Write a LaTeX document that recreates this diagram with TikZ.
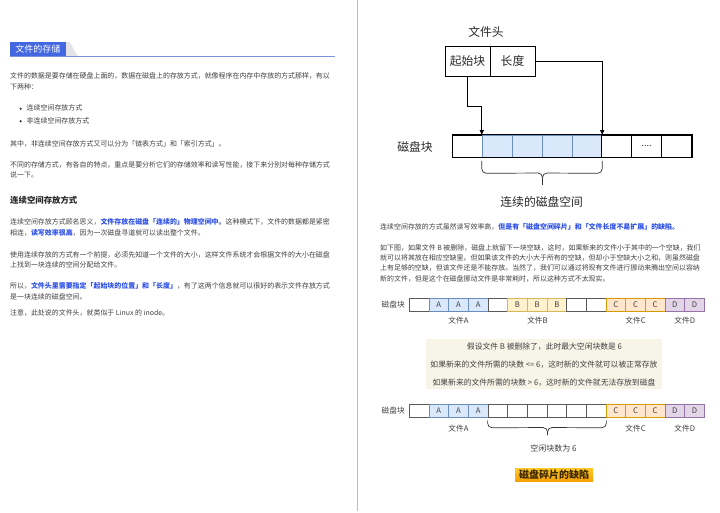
\documentclass[tikz,border=0pt]{standalone}
\usepackage{fontspec}
\setmainfont{Noto Sans CJK SC}
\usetikzlibrary{arrows.meta}
\definecolor{bodytxt}{RGB}{64,64,64}
\definecolor{headtxt}{RGB}{40,40,40}
\definecolor{linkblue}{RGB}{45,80,230}
\definecolor{tabblue}{RGB}{66,103,224}
\definecolor{tabline}{RGB}{125,143,224}
\definecolor{tabshadow}{RGB}{228,228,232}
\definecolor{dioblue}{RGB}{218,232,252}
\definecolor{dioblueline}{RGB}{108,142,191}
\definecolor{dioyellow}{RGB}{255,242,204}
\definecolor{dioyellowline}{RGB}{214,182,86}
\definecolor{dioorange}{RGB}{255,230,204}
\definecolor{dioorangeline}{RGB}{215,155,0}
\definecolor{diopurple}{RGB}{225,213,231}
\definecolor{diopurpleline}{RGB}{150,115,166}
\definecolor{notebg}{RGB}{247,245,232}
\definecolor{sepgray}{RGB}{190,190,190}
\definecolor{celledge}{RGB}{90,90,90}
\definecolor{badgetop}{RGB}{255,200,40}
\definecolor{badgebot}{RGB}{245,160,0}
\definecolor{badgetxt}{RGB}{60,40,0}
\newcommand{\hl}[1]{\textcolor{linkblue}{\bfseries #1}}
\begin{document}
\begin{tikzpicture}[x=1pt,y=-1pt,
  body/.style={anchor=west, inner sep=0pt, text=bodytxt, font=\fontsize{6.95}{8}\selectfont, text height=5.6pt, text depth=1.4pt},
  bigtxt/.style={inner sep=0pt, text=headtxt, font=\fontsize{11.8}{13}\selectfont},
  smalltxt/.style={inner sep=0pt, text=bodytxt, font=\fontsize{7.7}{9}\selectfont},
  hdrbox/.style={draw=black, line width=0.9pt, minimum width=45pt, minimum height=30pt, inner sep=0pt, text=headtxt, font=\fontsize{11.8}{13}\selectfont},
  topcell/.style={draw=black, line width=0.8pt, fill=white, minimum width=29.9pt, minimum height=22.3pt, inner sep=0pt},
  bluecell/.style={draw=dioblueline, line width=0.8pt, fill=dioblue, minimum width=29.9pt, minimum height=22.3pt, inner sep=0pt},
  cellbase/.style={minimum width=19.67pt, minimum height=13.5pt, inner sep=0pt, line width=0.7pt, text=bodytxt, font=\fontsize{7.7}{9}\selectfont},
  cellW/.style={cellbase, draw=celledge, fill=white},
  cellA/.style={cellbase, draw=dioblueline, fill=dioblue},
  cellB/.style={cellbase, draw=dioyellowline, fill=dioyellow},
  cellC/.style={cellbase, draw=dioorangeline, fill=dioorange},
  cellD/.style={cellbase, draw=diopurpleline, fill=diopurple},
  arr/.style={draw=black, line width=0.8pt, -{Triangle[length=4.5pt,width=4pt]}},
  bracepath/.style={draw=black!80, line width=0.7pt, rounded corners=4.5pt},
  notetxt/.style={inner sep=0pt, text=bodytxt, font=\fontsize{7.8}{9}\selectfont}
]
\useasboundingbox (0,0) rectangle (720,513);
\fill[white] (0,0) rectangle (720,513);

% page separator
\draw[sepgray, line width=1.2pt] (357.5,0) -- (357.5,511);

% ---------------- left page ----------------
\fill[tabshadow] (65.5,42) -- (69.5,42) -- (78,56.5) -- (65.5,56.5) -- cycle;
\fill[tabblue] (10,42) rectangle (65.5,56.8);
\draw[tabline, line width=1.3pt] (10,56.8) -- (335,56.8);
\node[inner sep=0pt, text=white, font=\fontsize{9}{10}\selectfont] (tab) at (37.8,49.4) {文件的存储};

\node[body] (p1a) at (10,76) {文件的数据是要存储在硬盘上面的，数据在磁盘上的存放方式，就像程序在内存中存放的方式那样，有以};
\node[body] (p1b) at (10,87) {下两种：};
\fill[bodytxt] (20.6,108.8) circle (1.2pt);
\node[body] (b1) at (26.5,108.8) {连续空间存放方式};
\fill[bodytxt] (20.6,121.3) circle (1.2pt);
\node[body] (b2) at (26.5,121.3) {非连续空间存放方式};
\node[body] (p2) at (10,144) {其中，非连续空间存放方式又可以分为「链表方式」和「索引方式」。};
\node[body] (p3a) at (10,165.6) {不同的存储方式，有各自的特点，重点是要分析它们的存储效率和读写性能，接下来分别对每种存储方式};
\node[body] (p3b) at (10,175.6) {说一下。};
\node[anchor=west, inner sep=0pt, text=headtxt, font=\fontsize{8.4}{10}\selectfont\bfseries] (h2) at (10,199.8) {连续空间存放方式};
\node[body] (p4a) at (10,222.6) {连续空间存放方式顾名思义，\hl{文件存放在磁盘「连续的」物理空间中。}这种模式下，文件的数据都是紧密};
\node[body] (p4b) at (10,233.2) {相连，\hl{读写效率很高}，因为一次磁盘寻道就可以读出整个文件。};
\node[body] (p5a) at (10,255) {使用连续存放的方式有一个前提，必须先知道一个文件的大小，这样文件系统才会根据文件的大小在磁盘};
\node[body] (p5b) at (10,265.4) {上找到一块连续的空间分配给文件。};
\node[body] (p6a) at (10,286.6) {所以，\hl{文件头里需要指定「起始块的位置」和「长度」}，有了这两个信息就可以很好的表示文件存放方式};
\node[body] (p6b) at (10,297) {是一块连续的磁盘空间。};
\node[body] (p7) at (10,313.4) {注意，此处说的文件头，就类似于 Linux 的 inode。};

% ---------------- right page: top diagram ----------------
\node[bigtxt] (fh) at (486,31.5) {文件头};
\node[hdrbox] (s) at (467.5,61) {起始块};
\node[hdrbox] (l) at (512.5,61) {长度};
\node[bigtxt] (dk) at (415,146.5) {磁盘块};
\foreach \st [count=\i] in {topcell,bluecell,bluecell,bluecell,bluecell,topcell,topcell,topcell}
  \node[\st] (c\i) at ({452.3+(\i-0.5)*29.9},146.3) {};
\draw[black, line width=0.8pt] (c1.north west) rectangle (c8.south east);
\node[inner sep=0pt, text=headtxt, font=\fontsize{9}{10}\selectfont] (dots) at (c7) {....};
\draw[arr] (s.south) -- ++(0,30) -| (c2.north west);
\draw[arr] (l.east) -| (c5.north east);
\draw[bracepath] (c2.south west) ++(0,3) -- ++(0,12.5) -- (542.5,173) -- (542.5,185);
\draw[bracepath] (c5.south east) ++(0,3) -- ++(0,12.5) -- (542.5,173) -- (542.5,185);
\node[bigtxt] (lx) at (541.7,201.5) {连续的磁盘空间};

% ---------------- right page: text ----------------
\node[body] (q1) at (380,227) {连续空间存放的方式虽然读写效率高，\hl{但是有「磁盘空间碎片」和「文件长度不易扩展」的缺陷。}};
\node[body] (q2a) at (380,248) {如下图，如果文件 B 被删除，磁盘上就留下一块空缺，这时，如果新来的文件小于其中的一个空缺，我们};
\node[body] (q2b) at (380,258.3) {就可以将其放在相应空缺里。但如果该文件的大小大于所有的空缺，但却小于空缺大小之和，则虽然磁盘};
\node[body] (q2c) at (380,268.6) {上有足够的空缺，但该文件还是不能存放。当然了，我们可以通过将现有文件进行挪动来腾出空间以容纳};
\node[body] (q2d) at (380,279) {新的文件，但是这个在磁盘挪动文件是非常耗时，所以这种方式不太现实。};

% ---------------- row 1 ----------------
\node[smalltxt, anchor=east] (dk1) at (405,304.7) {磁盘块};
\foreach \st/\lb [count=\i] in {cellW/{},cellA/A,cellA/A,cellA/A,cellW/{},cellB/B,cellB/B,cellB/B,cellW/{},cellW/{},cellC/C,cellC/C,cellC/C,cellD/D,cellD/D}
  \node[\st] (ra\i) at ({409.3+(\i-0.5)*19.67},304.7) {\lb};
\node[smalltxt] (fa1) at (458.5,320.6) {文件A};
\node[smalltxt] (fb1) at (537.5,320.6) {文件B};
\node[smalltxt] (fc1) at (635.5,320.6) {文件C};
\node[smalltxt] (fd1) at (684.7,320.6) {文件D};

% ---------------- note ----------------
\node[fill=notebg, minimum width=236pt, minimum height=50pt, inner sep=0pt] (note) at (543.5,364) {};
\node[notetxt] (n1) at (544.5,346.7) {假设文件 B 被删除了，此时最大空闲块数是 6};
\node[notetxt] (n2) at (544,364.5) {如果新来的文件所需的块数 <= 6，这时新的文件就可以被正常存放};
\node[notetxt] (n3) at (544,382.7) {如果新来的文件所需的块数 > 6，这时新的文件就无法存放到磁盘};

% ---------------- row 2 ----------------
\node[smalltxt, anchor=east] (dk2) at (405,410.7) {磁盘块};
\foreach \st/\lb [count=\i] in {cellW/{},cellA/A,cellA/A,cellA/A,cellW/{},cellW/{},cellW/{},cellW/{},cellW/{},cellW/{},cellC/C,cellC/C,cellC/C,cellD/D,cellD/D}
  \node[\st] (rb\i) at ({409.3+(\i-0.5)*19.67},410.7) {\lb};
\node[smalltxt] (fa2) at (458.5,428.4) {文件A};
\node[smalltxt] (fc2) at (635.5,428.4) {文件C};
\node[smalltxt] (fd2) at (684.7,428.4) {文件D};
\draw[bracepath] (rb5.south west) ++(0,2.5) -- ++(0,7.5) -- (547.5,427.5) -- (547.5,435);
\draw[bracepath] (rb10.south east) ++(0,2.5) -- ++(0,7.5) -- (547.5,427.5) -- (547.5,435);
\node[smalltxt, font=\fontsize{8}{9}\selectfont] (free) at (553.5,448.4) {空闲块数为 6};

% ---------------- badge ----------------
\node[top color=badgetop, bottom color=badgebot, minimum width=78pt, minimum height=13.5pt, inner sep=0pt, text=badgetxt, font=\fontsize{10}{11}\selectfont\bfseries] (badge) at (554,475) {磁盘碎片的缺陷};
\end{tikzpicture}
\end{document}
